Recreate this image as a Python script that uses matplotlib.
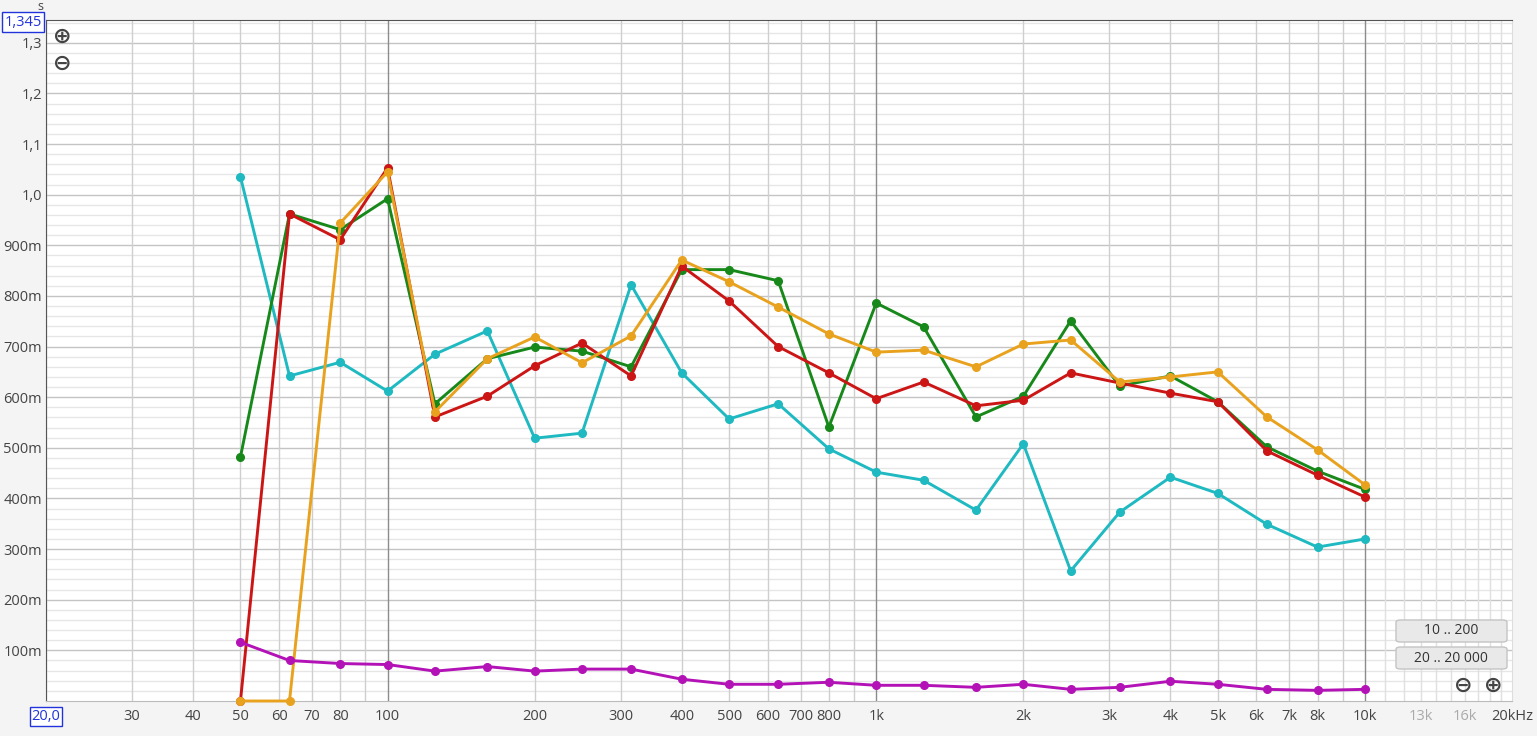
import matplotlib
matplotlib.use("Agg")
import matplotlib.pyplot as plt
from matplotlib.patches import FancyBboxPatch

plt.rcParams['font.family'] = ['Open Sans', 'DejaVu Sans']

# 1/3 octave bands, Hz
freqs = [50, 63, 80, 100, 125, 160, 200, 250, 315, 400, 500, 630, 800,
         1000, 1250, 1600, 2000, 2500, 3150, 4000, 5000, 6300, 8000, 10000]

# seconds
cyan = [1.035, 0.642, 0.669, 0.612, 0.685, 0.731, 0.519, 0.529, 0.822, 0.648, 0.557, 0.587,
        0.498, 0.452, 0.436, 0.377, 0.508, 0.257, 0.373, 0.442, 0.410, 0.349, 0.304, 0.320]
green = [0.482, 0.962, 0.931, 0.992, 0.587, 0.676, 0.699, 0.691, 0.660, 0.852, 0.852, 0.830,
         0.541, 0.786, 0.739, 0.561, 0.602, 0.751, 0.622, 0.642, 0.591, 0.502, 0.454, 0.418]
red = [0.0, 0.962, 0.911, 1.053, 0.561, 0.602, 0.662, 0.707, 0.642, 0.859, 0.790, 0.700,
       0.648, 0.597, 0.630, 0.583, 0.594, 0.648, 0.628, 0.608, 0.591, 0.494, 0.446, 0.403]
orange = [0.0, 0.0, 0.944, 1.045, 0.571, 0.676, 0.719, 0.668, 0.721, 0.871, 0.828, 0.778,
          0.725, 0.689, 0.693, 0.660, 0.705, 0.713, 0.630, 0.640, 0.650, 0.561, 0.496, 0.427]
magenta = [0.116, 0.080, 0.074, 0.072, 0.059, 0.068, 0.059, 0.063, 0.063, 0.043, 0.033, 0.033,
           0.037, 0.031, 0.031, 0.027, 0.033, 0.023, 0.027, 0.039, 0.033, 0.023, 0.021, 0.023]

xtick_vals = [20, 30, 40, 50, 60, 70, 80, 100, 200, 300, 400, 500, 600, 700, 800,
              1000, 2000, 3000, 4000, 5000, 6000, 7000, 8000, 10000, 13000, 16000, 20000]
xtick_labels = ['20,0', '30', '40', '50', '60', '70', '80', '100', '200', '300', '400', '500',
                '600', '700', '800', '1k', '2k', '3k', '4k', '5k', '6k', '7k', '8k', '10k',
                '13k', '16k', '20kHz']
ytick_vals = [0.1, 0.2, 0.3, 0.4, 0.5, 0.6, 0.7, 0.8, 0.9, 1.0, 1.1, 1.2, 1.3, 1.345]
ytick_labels = ['100m', '200m', '300m', '400m', '500m', '600m', '700m', '800m', '900m',
                '1,0', '1,1', '1,2', '1,3', '1,345']

fig = plt.figure(figsize=(15.37, 7.36), dpi=100, facecolor='#f4f4f4')
ax = fig.add_axes([46 / 1537, 35 / 736, 1466 / 1537, 681 / 736])
ax.set_facecolor('white')
ax.set_xscale('log')
ax.set_xlim(20, 20000)
ax.set_ylim(0, 1.345)

# grid: horizontal first, vertical on top, decade lines last
for i in range(1, 68):
    y = i * 0.02
    if i % 5 == 0:
        ax.axhline(y, color='#c4c4c4', lw=1.0, zorder=1)
    else:
        ax.axhline(y, color='#e6e6e6', lw=1.0, zorder=1)
grid_x = []
for dec in [10, 100, 1000]:
    for m in range(1, 10):
        v = dec * m
        if 20 <= v <= 20000:
            grid_x.append(v)
for v in grid_x:
    if v not in (100, 1000):
        ax.axvline(v, color='#cfcfcf', lw=1.0, zorder=1.5)
for v in range(11, 20):
    ax.axvline(v * 1000, color='#e0e0e0', lw=1.0, zorder=1.5)
for v in (100, 1000, 10000):
    ax.axvline(v, color='#8c8c8c', lw=1.0, zorder=2)

series = [(cyan, '#1eb9c1'), (green, '#17891a'), (red, '#cc1515'),
          (orange, '#e8a21e'), (magenta, '#b312b6')]
for vals, col in series:
    ax.plot(freqs, vals, color=col, lw=2.1, marker='o', ms=5.5, zorder=3, clip_on=False)

ax.set_xticks(xtick_vals)
ax.set_xticklabels(xtick_labels)
ax.set_xticks([], minor=True)
ax.set_yticks(ytick_vals)
ax.set_yticklabels(ytick_labels)
ax.tick_params(length=0, labelsize=10.5, colors='#444444', pad=6)
ax.tick_params(axis='y', pad=3)

for lab in ax.get_xticklabels():
    if lab.get_text() in ('13k', '16k'):
        lab.set_color('#aaaaaa')
    if lab.get_text() == '20,0':
        lab.set_color('#2233dd')
        lab.set_bbox(dict(facecolor='white', edgecolor='#2233dd', lw=1, pad=1.5))
for lab in ax.get_yticklabels():
    if lab.get_text() == '1,345':
        lab.set_color('#2233dd')
        lab.set_bbox(dict(facecolor='white', edgecolor='#2233dd', lw=1, pad=1.5))

for side in ['left', 'top']:
    ax.spines[side].set_color('#555555')
ax.spines['bottom'].set_color('#bbbbbb')
ax.spines['right'].set_color('#dddddd')

fig.text(40 / 1537, 1 - 6 / 736, 's', fontsize=9, color='#444444', ha='center', va='center')

# zoom icons
for (px, py, s) in [(62, 37, '⊕'), (62, 64, '⊖'), (1463, 686, '⊖'), (1493, 686, '⊕')]:
    fig.text(px / 1537, 1 - py / 736, s, fontsize=16, color='#444444', ha='center',
             va='center', family='DejaVu Sans', fontweight='bold')

# range buttons
for (top, txt) in [(620, '10 .. 200'), (647, '20 .. 20 000')]:
    btn = FancyBboxPatch((1396 / 1537, 1 - (top + 22) / 736), 111 / 1537, 22 / 736,
                         boxstyle='round,pad=0,rounding_size=0.003',
                         transform=fig.transFigure, facecolor='#e9e9e9',
                         edgecolor='#c4c4c4', lw=1, zorder=5)
    fig.patches.append(btn)
    fig.text(1451 / 1537, 1 - (top + 11) / 736, txt, fontsize=10, color='#333333',
             ha='center', va='center', zorder=6)

fig.savefig('out.png', dpi=100, facecolor=fig.get_facecolor())
